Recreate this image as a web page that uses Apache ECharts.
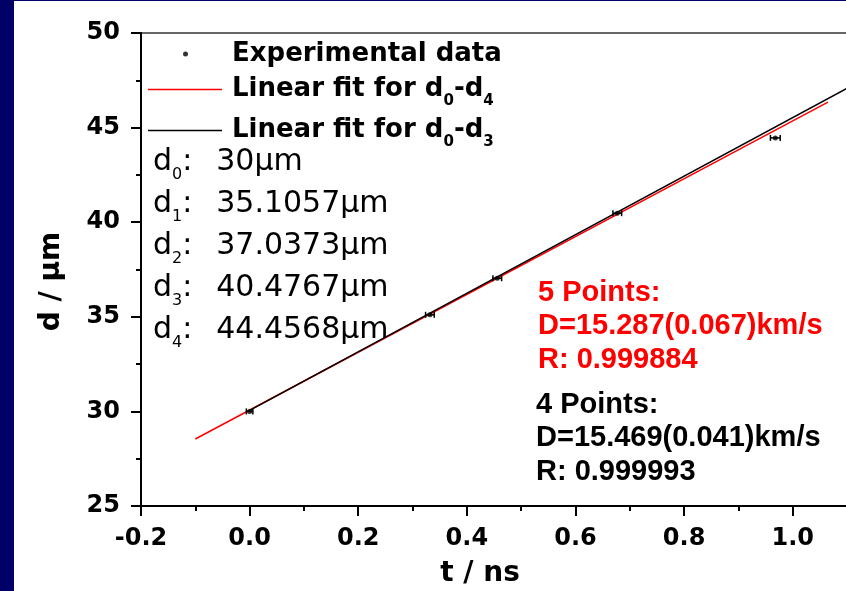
<!DOCTYPE html>
<html>
<head>
<meta charset="utf-8">
<script src="https://cdn.jsdelivr.net/npm/echarts@6/dist/echarts.min.js"></script>
<style>
  html, body { margin: 0; padding: 0; background: #fff; }
  #chart { width: 846px; height: 591px; }
</style>
</head>
<body>
<div id="chart"></div>
<script>
// measured data (t in ns, d in um)
const tData = [0, 0.332, 0.456, 0.677, 0.968];
const dData = [30, 35.1057, 37.0373, 40.4767, 44.4568];
const tErr = [0.006, 0.008, 0.008, 0.008, 0.009];

// fitted lines, end points
const fit5T = [-0.1, 1.065];
const fit5D = [28.54, 46.35];
const fit4T = [0, 1.1];
const fit4D = [30.05, 47.07];

const seriesNames = ['Experimental data', 'Linear fit for d0-d4', 'Linear fit for d0-d3'];
const fit5Text = ['5 Points:', 'D=15.287(0.067)km/s', 'R: 0.999884'];
const fit4Text = ['4 Points:', 'D=15.469(0.041)km/s', 'R: 0.999993'];

const chart = echarts.init(document.getElementById('chart'), null, { renderer: 'canvas' });

const pts = tData.map((t, i) => [t, dData[i], tErr[i]]);
const boldFont = 'DejaVu Sans';

const dRows = dData.map((v, i) => '{d|d}{s|' + i + '}{c|:}{v|' + v + 'μm}').join('\n');

let option = {
  animation: false,
  backgroundColor: '#fff',
  grid: { left: 141, top: 33, width: 706, height: 473, show: true, borderColor: '#666', borderWidth: 2, outerBoundsMode: 'none' },
  xAxis: {
    type: 'value', min: -0.2, max: 1.1, interval: 0.2,
    name: 't / ns', nameLocation: 'middle', nameGap: 54,
    nameTextStyle: { fontFamily: boldFont, fontWeight: 'bold', fontSize: 28, color: '#000', padding: [0, 28, 0, 0] },
    axisLine: { onZero: false, lineStyle: { color: '#000', width: 2 } },
    axisTick: { length: 10, lineStyle: { color: '#000', width: 2 } },
    minorTick: { show: true, splitNumber: 2, length: 5, lineStyle: { color: '#000', width: 2 } },
    splitLine: { show: false },
    axisLabel: { showMaxLabel: false, margin: 21, color: '#000', fontFamily: boldFont, fontWeight: 'bold', fontSize: 24,
      formatter: v => v.toFixed(1) }
  },
  yAxis: {
    type: 'value', min: 25, max: 50, interval: 5,
    name: 'd / μm', nameLocation: 'middle', nameGap: 75, nameRotate: 90,
    nameTextStyle: { fontFamily: boldFont, fontWeight: 'bold', fontSize: 28, color: '#000', padding: [0, 24, 0, 0] },
    axisLine: { onZero: false, lineStyle: { color: '#000', width: 2 } },
    axisTick: { length: 10, lineStyle: { color: '#000', width: 2 } },
    minorTick: { show: true, splitNumber: 2, length: 5, lineStyle: { color: '#000', width: 2 } },
    splitLine: { show: false },
    axisLabel: { margin: 21, color: '#000', fontFamily: boldFont, fontWeight: 'bold', fontSize: 24 }
  },
  legend: [
    {
      data: [{ name: seriesNames[0], icon: 'circle', itemStyle: { color: '#000' } }],
      left: 183, top: 41, padding: 0, selectedMode: false,
      itemWidth: 5, itemHeight: 5,
      textStyle: { fontFamily: boldFont, fontWeight: 'bold', fontSize: 26, color: '#000', padding: [0, 0, 0, 39] }
    },
    {
      data: [
        { name: seriesNames[1], icon: 'rect', itemStyle: { color: '#ff0000' } },
        { name: seriesNames[2], icon: 'rect', itemStyle: { color: '#000' } }
      ],
      orient: 'vertical',
      left: 148, top: 70, padding: 0, itemGap: 2, selectedMode: false,
      itemWidth: 74, itemHeight: 1.5,
      formatter: function (name) {
        const sub = name === seriesNames[1] ? '4' : '3';
        return '{n|Linear fit for d}{s|0}{n|-d}{s|' + sub + '}';
      },
      textStyle: {
        padding: [0, 0, 0, 5],
        rich: {
          n: { fontFamily: boldFont, fontWeight: 'bold', fontSize: 26, lineHeight: 28, color: '#000' },
          s: { fontFamily: boldFont, fontWeight: 'bold', fontSize: 15, lineHeight: 14, padding: [24, 0, 0, 0], color: '#000' }
        }
      }
    }
  ],
  graphic: [
    { type: 'rect', left: 0, top: 0, shape: { width: 14, height: 591 }, style: { fill: '#000066' }, z: 100 },
    { type: 'rect', left: 0, top: 0, shape: { width: 846, height: 1 }, style: { fill: '#000066' }, z: 100 },
    {
      type: 'text', left: 153, top: 147, z: 50,
      style: {
        text: dRows,
        rich: {
          d: { fontFamily: 'DejaVu Sans', fontSize: 30, lineHeight: 42, fill: '#000' },
          s: { fontFamily: 'DejaVu Sans', fontSize: 16, lineHeight: 12, verticalAlign: 'bottom', fill: '#000' },
          c: { fontFamily: 'DejaVu Sans', fontSize: 30, lineHeight: 42, width: 34, fill: '#000' },
          v: { fontFamily: 'DejaVu Sans', fontSize: 30, lineHeight: 42, fill: '#000' }
        }
      }
    },
    {
      type: 'text', left: 538, top: 276, z: 50,
      style: { text: fit5Text.join('\n'), fill: '#ff0000', font: 'bold 29px "Liberation Sans"', lineHeight: 33.5 }
    },
    {
      type: 'text', left: 536, top: 388, z: 50,
      style: { text: fit4Text.join('\n'), fill: '#000', font: 'bold 29px "Liberation Sans"', lineHeight: 33.5 }
    }
  ],
  series: [
    {
      name: seriesNames[0], type: 'scatter', symbol: 'circle', symbolSize: 5,
      itemStyle: { color: '#000' }, z: 5,
      data: pts.map(p => [p[0], p[1]])
    },
    {
      name: 'tErr', type: 'custom', z: 4,
      renderItem: function (params, api) {
        const t = api.value(0), d = api.value(1), e = api.value(2);
        const a = api.coord([t - e, d]);
        const b = api.coord([t + e, d]);
        const h = 3;
        const st = { stroke: '#000', lineWidth: 1.5 };
        return {
          type: 'group',
          children: [
            { type: 'line', shape: { x1: a[0], y1: a[1], x2: b[0], y2: b[1] }, style: st },
            { type: 'line', shape: { x1: a[0], y1: a[1] - h, x2: a[0], y2: a[1] + h }, style: st },
            { type: 'line', shape: { x1: b[0], y1: b[1] - h, x2: b[0], y2: b[1] + h }, style: st }
          ]
        };
      },
      data: pts
    },
    {
      name: seriesNames[1], type: 'line', symbol: 'none', z: 2,
      lineStyle: { color: '#ff0000', width: 1.5 }, itemStyle: { color: '#ff0000' },
      data: fit5T.map((t, i) => [t, fit5D[i]])
    },
    {
      name: seriesNames[2], type: 'line', symbol: 'none', z: 3,
      lineStyle: { color: '#000', width: 1.5 }, itemStyle: { color: '#000' },
      data: fit4T.map((t, i) => [t, fit4D[i]])
    }
  ]
};

window.addEventListener('resize', function () {
  chart.resize();
});

option && chart.setOption(option);
</script>
</body>
</html>
